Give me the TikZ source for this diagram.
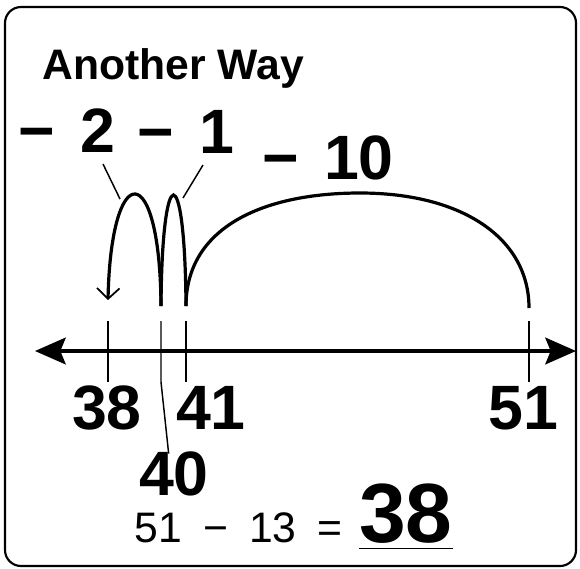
\documentclass[tikz,border=0pt]{standalone}
\usepackage{fontspec}
\setmainfont{Liberation Sans}
\usetikzlibrary{arrows.meta}
\newcommand{\mnus}{\char"2212}

\begin{document}
\begin{tikzpicture}[x=0.75pt,y=-0.75pt,
	every node/.style={inner sep=0pt},
	thinline/.style={line width=1.1pt},
	hop/.style={line width=2.4pt},
	bignum/.style={font=\fontsize{47}{47}\selectfont\bfseries, anchor=base},
	axline/.style={line width=2.8pt, {Stealth[length=23pt,width=20pt,inset=4pt]}-{Stealth[length=23pt,width=20pt,inset=4pt]}},
	]
	\def\axy{351};
	\useasboundingbox (0,0) rectangle (580,568);
	\draw[line width=1.6pt, rounded corners=12pt] (5,7) rectangle (576,566);
	\node[anchor=base west, font=\fontsize{32}{32}\selectfont\bfseries] (title) at (42,79) {Another Way};
	% jumps
	\node[bignum] (m2) at (67,152) {\mnus\hspace{6pt} 2};
	\node[bignum] (m1) at (186,153) {\mnus\hspace{6pt} 1};
	\node[bignum] (m10) at (328,179) {\mnus\hspace{6pt} 10};
	% number line
	\coordinate (axl) at (35,\axy);
	\coordinate (axr) at (576,\axy);
	\draw[axline] (axl) -- (axr);
	\foreach \n/\x in {38/108, 41/186, 51/529} {
		\coordinate (t\n) at (\x,\axy);
		\draw[thinline] (\x,\axy-30) -- (\x,\axy+31);
	}
	\coordinate (t40) at (161,\axy);
	\node[bignum] (n38) at (107,429) {38};
	\node[bignum] (n41) at (211,429) {41};
	\node[bignum] (n51) at (523,429) {51};
	\node[bignum] (n40) at (174,495) {40};
	\draw[thinline] (161,\axy-30) -- (161,\axy+31) -- ([xshift=-4pt,yshift=-2pt]n40.north);
	% hops
	\coordinate (h38) at (108,300);
	\coordinate (h40) at (161,306);
	\coordinate (h41) at (186,306);
	\coordinate (h51) at (529,308);
	\draw[hop, -{Straight Barb[length=8pt,width=17pt,line width=1.3pt]}] (h40) .. controls (160,158) and (111,158) .. (h38);
	\draw[hop] (h41) .. controls (185,158) and (162,158) .. (h40);
	\draw[hop] (h41) .. controls (186,228) and (262,193) .. (360,193) .. controls (462,193) and (529,238) .. (h51);
	\draw[thinline] (103,164) -- (120,199);
	\draw[thinline] (203,165) -- (183,198);
	% answer
	\node[anchor=base east, font=\fontsize{32}{32}\selectfont] (eq) at (343,542) {51\hspace{7pt} \mnus\hspace{7pt} 13\hspace{7pt} =};
	\node[anchor=base west, font=\fontsize{63}{63}\selectfont\bfseries] (ans) at (359,542) {38};
	\draw[line width=0.9pt] ([yshift=-5pt]ans.base west) -- ([yshift=-5pt]ans.base east);
\end{tikzpicture}
\end{document}
